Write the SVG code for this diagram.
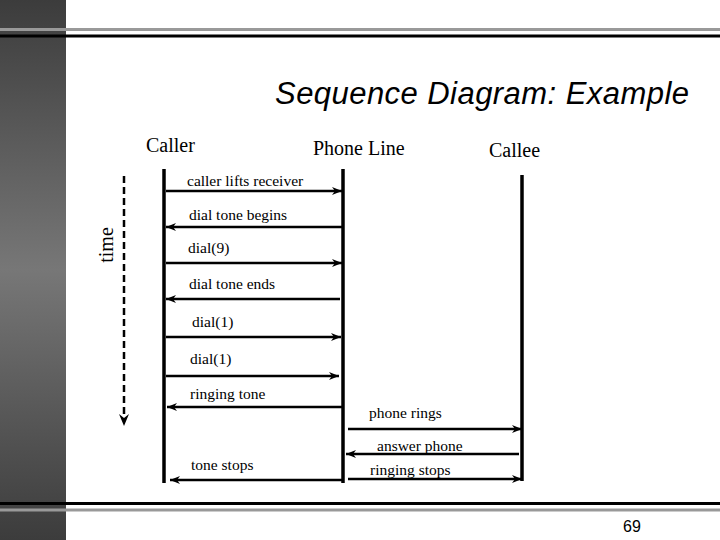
<svg xmlns="http://www.w3.org/2000/svg" width="720" height="540" viewBox="0 0 720 540">
<defs>
<linearGradient id="bar" x1="0" y1="0" x2="0" y2="1">
<stop offset="0" stop-color="#3c3c3c"/>
<stop offset="0.5" stop-color="#777777"/>
<stop offset="1" stop-color="#3c3c3c"/>
</linearGradient>
<marker id="ah" markerWidth="10" markerHeight="8" refX="10" refY="4" orient="auto" markerUnits="userSpaceOnUse">
<path d="M0,0 L10,4 L0,8 L3,4 z" fill="#000"/>
</marker>
</defs>
<style>
.lbl{font-family:"Liberation Serif","Times New Roman",serif;font-size:15.5px;fill:#000}
.head{font-family:"Liberation Serif","Times New Roman",serif;font-size:20px;fill:#000}
.life{stroke:#000;stroke-width:3.5;fill:none}
.msg{stroke:#000;stroke-width:2.5;fill:none;marker-end:url(#ah)}
</style>
<rect width="720" height="540" fill="#fff"/>
<rect x="0" y="0" width="66" height="540" fill="url(#bar)"/>
<line x1="0" y1="29.5" x2="720" y2="29.5" stroke="#999" stroke-width="3"/>
<line x1="0" y1="36" x2="720" y2="36" stroke="#000" stroke-width="3"/>
<line x1="0" y1="503.5" x2="720" y2="503.5" stroke="#000" stroke-width="3"/>
<line x1="0" y1="510" x2="720" y2="510" stroke="#999" stroke-width="3"/>
<text x="275" y="104" font-family="Liberation Sans,Arial,sans-serif" font-style="italic" font-size="31" textLength="414" fill="#000">Sequence Diagram: Example</text>
<text x="632" y="532" font-family="Liberation Sans,Arial,sans-serif" font-size="16" text-anchor="middle" fill="#000">69</text>

<g id="time">
<line x1="124" y1="176" x2="124" y2="416" stroke="#000" stroke-width="2.5" stroke-dasharray="7,4"/>
<path d="M119,414 L124,426 L129,414 L124,418 z" fill="#000"/>
<text class="head" transform="translate(113,245) rotate(-90)" text-anchor="middle" font-size="19">time</text>
</g>

<g id="caller">
<text class="head" x="146" y="152">Caller</text>
<line class="life" x1="164" y1="169" x2="164" y2="483"/>
</g>
<g id="phoneline">
<text class="head" x="313" y="155">Phone Line</text>
<line class="life" x1="343" y1="169" x2="343" y2="483"/>
</g>
<g id="callee">
<text class="head" x="489" y="157">Callee</text>
<line class="life" x1="522" y1="175" x2="522" y2="481"/>
</g>

<g id="connectors">
<line class="msg" x1="166" y1="191" x2="342" y2="191"/>
<line class="msg" x1="342" y1="227" x2="166" y2="227"/>
<line class="msg" x1="166" y1="263" x2="342" y2="263"/>
<line class="msg" x1="340" y1="299" x2="166" y2="299"/>
<line class="msg" x1="166" y1="337" x2="341" y2="337"/>
<line class="msg" x1="166" y1="376" x2="339" y2="376"/>
<line class="msg" x1="342" y1="407" x2="167" y2="407"/>
<line class="msg" x1="342" y1="480" x2="170" y2="480"/>
<line class="msg" x1="348" y1="429" x2="522" y2="429"/>
<line class="msg" x1="519" y1="454" x2="346" y2="454"/>
<line class="msg" x1="348" y1="479" x2="522" y2="479"/>
</g>

<g id="labels">
<text class="lbl" x="187" y="186">caller lifts receiver</text>
<text class="lbl" x="189" y="220">dial tone begins</text>
<text class="lbl" x="188" y="253">dial(9)</text>
<text class="lbl" x="189" y="289">dial tone ends</text>
<text class="lbl" x="192" y="327">dial(1)</text>
<text class="lbl" x="190" y="364">dial(1)</text>
<text class="lbl" x="190" y="399">ringing tone</text>
<text class="lbl" x="191" y="470">tone stops</text>
<text class="lbl" x="369" y="418">phone rings</text>
<text class="lbl" x="377" y="451">answer phone</text>
<text class="lbl" x="370" y="475">ringing stops</text>
</g>
</svg>
